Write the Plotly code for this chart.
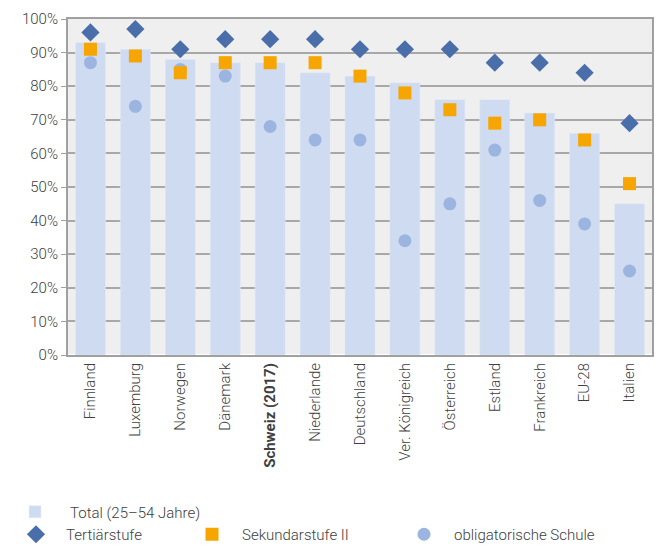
import plotly.graph_objects as go

laender = ["Finnland", "Luxemburg", "Norwegen", "Dänemark", "Schweiz (2017)", "Niederlande",
           "Deutschland", "Ver. Königreich", "Österreich", "Estland", "Frankreich", "EU-28", "Italien"]
total = [93, 91, 88, 87, 87, 84, 83, 81, 76, 76, 72, 66, 45]
tertiaer = [96, 97, 91, 94, 94, 94, 91, 91, 91, 87, 87, 84, 69]
sek2 = [91, 89, 84, 87, 87, 87, 83, 78, 73, 69, 70, 64, 51]
oblig = [87, 74, 85, 83, 68, 64, 64, 34, 45, 61, 46, 39, 25]
y_ticks = [0, 10, 20, 30, 40, 50, 60, 70, 80, 90, 100]

ticktext = ["<b>%s</b>" % l if l.startswith("Schweiz") else l for l in laender]

W, H = 660, 551

# pixel -> paper coordinates (margins are 0, axes placed by domain)
def fx(px):
    return px / W

def fy(py):
    return 1 - py / H

fig = go.Figure()
fig.add_trace(go.Bar(x=laender, y=total, name="Total (25\u201354 Jahre)",
                     marker_color="#cfdbf0", legend="legend", showlegend=True))
fig.add_trace(go.Scatter(x=laender, y=oblig, mode="markers", name="obligatorische Schule",
                         marker=dict(symbol="circle", size=13, color="#9bb5e0"), legend="legend4"))
fig.add_trace(go.Scatter(x=laender, y=tertiaer, mode="markers", name="Tertiärstufe",
                         marker=dict(symbol="diamond", size=14, color="#4a6ea9"), legend="legend2"))
fig.add_trace(go.Scatter(x=laender, y=sek2, mode="markers", name="Sekundarstufe II",
                         marker=dict(symbol="square", size=13, color="#f7a500"), legend="legend3"))

leg = dict(yanchor="middle", xanchor="left", bgcolor="rgba(0,0,0,0)", itemwidth=50,
           font=dict(family="Roboto", size=15, color="#404040", weight=300), itemclick=False)
# bottom row sits flush with the page bottom so it does not push the margins
row2 = dict(leg, yanchor="bottom", y=0)

fig.update_layout(
    width=W, height=H,
    showlegend=True,
    margin=dict(l=0, r=0, t=0, b=0),
    paper_bgcolor="white", plot_bgcolor="#efefef",
    font=dict(family="Roboto", size=14, color="#404040", weight=300),
    bargap=0.33,
    legend=dict(leg, x=fx(0), y=fy(512), itemwidth=60),
    legend2=dict(row2, x=fx(6)),
    legend3=dict(row2, x=fx(182)),
    legend4=dict(row2, x=fx(394)),
    xaxis=dict(domain=[fx(68), fx(652)], range=[-0.5, len(laender) - 0.5], tickmode="array",
               tickvals=laender, ticktext=ticktext,
               tickangle=-90, showline=True, linecolor="#a0a0a0", linewidth=2, mirror=True,
               tickfont=dict(size=15), automargin=False),
    yaxis=dict(domain=[fy(355), fy(19)], range=[0, 100], tickmode="array",
               tickvals=y_ticks, ticktext=["%d%%" % v for v in y_ticks], showgrid=True,
               gridcolor="#a8a8a8", gridwidth=1.5, showline=True, linecolor="#a0a0a0",
               linewidth=2, mirror=True, ticks="outside", ticklen=5, tickcolor="#a0a0a0",
               tickfont=dict(size=15), automargin=False),
)

# drop the default 8px body margin so the figure fills the window exactly
fig.write_html("out.html", config={"displayModeBar": False},
               post_script="document.body.style.margin='0';document.body.style.overflow='hidden';")
